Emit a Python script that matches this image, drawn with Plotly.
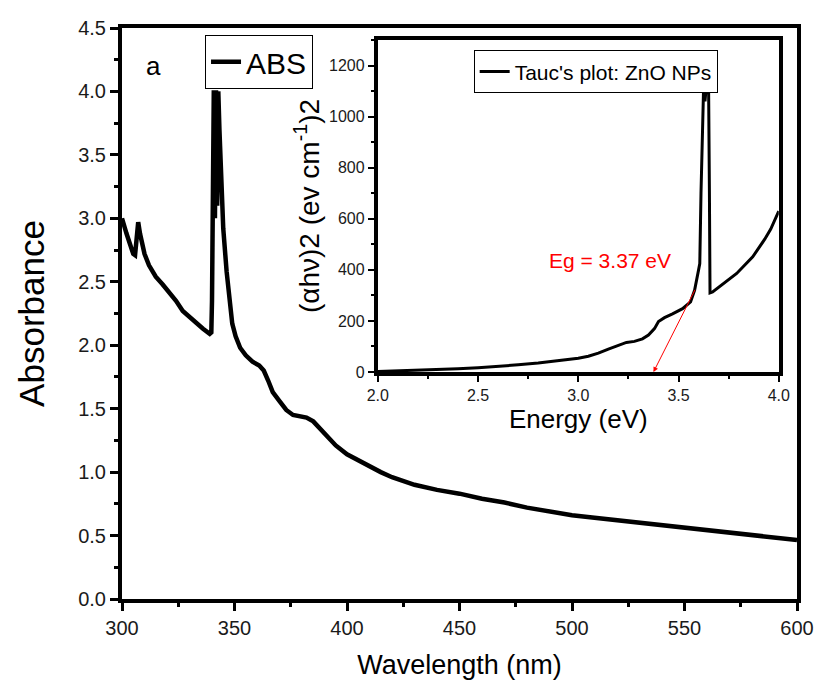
import plotly.graph_objects as go

# Main spectrum: wavelength (nm) vs absorbance
wavelength = [300, 301, 302, 303.5, 305, 305.8, 306.5, 307.2, 308, 308.8, 310, 312, 315, 318, 321, 324,
              327, 330, 333, 336, 339, 339.7, 340.0, 340.3, 340.8, 341.3, 341.8, 342.3, 342.8, 343.3,
              344.0, 345.0, 346.5, 347.5, 349, 350.5, 352.5, 355, 358, 361, 363, 365, 367, 370, 373, 376, 379,
              382, 385, 388, 391, 395, 400, 405, 410, 415, 420, 425, 430, 440, 450, 460, 470, 480,
              490, 500, 510, 520, 530, 540, 550, 560, 570, 580, 590, 600]
absorbance = [3.00, 2.93, 2.88, 2.80, 2.72, 2.71, 2.85, 2.97, 2.88, 2.80, 2.72, 2.63, 2.54, 2.48, 2.42, 2.35,
              2.27, 2.22, 2.17, 2.13, 2.09, 2.10, 2.35, 3.73, 4.01, 3.00, 4.01, 3.10, 4.00, 3.70,
              3.40, 2.92, 2.58, 2.40, 2.17, 2.07, 1.98, 1.92, 1.87, 1.84, 1.80, 1.72, 1.63, 1.56, 1.49, 1.45, 1.44,
              1.43, 1.40, 1.34, 1.28, 1.21, 1.14, 1.09, 1.04, 1.00, 0.96, 0.93, 0.90, 0.86, 0.83, 0.79, 0.76, 0.72,
              0.69, 0.66, 0.64, 0.62, 0.60, 0.58, 0.56, 0.54, 0.52, 0.50, 0.48, 0.465]

# Inset Tauc plot: energy (eV) vs (alpha h nu)^2
energy = [2.0, 2.1, 2.2, 2.3, 2.4, 2.5, 2.6, 2.7, 2.8, 2.9, 3.0, 3.05, 3.1, 3.15, 3.2, 3.24, 3.28, 3.32,
          3.35, 3.38, 3.40, 3.43, 3.47, 3.52, 3.56, 3.58, 3.60, 3.606, 3.612, 3.618, 3.625, 3.632, 3.638,
          3.644, 3.650, 3.654, 3.657, 3.67, 3.72, 3.79, 3.87, 3.93, 3.96, 4.0]
tauc = [2, 4, 6, 9, 13, 17, 22, 28, 35, 44, 54, 62, 74, 90, 106, 116, 120, 130,
        145, 170, 198, 213, 228, 248, 275, 320, 400, 425, 700, 960, 1115, 1060, 1115,
        1095, 1115, 700, 310, 314, 345, 386, 451, 520, 560, 630]

# Band-gap extrapolation arrow (tail -> head), in inset data units
eg_tail = (3.586, 328)
eg_head = (3.375, 0)
eg_label = "Eg = 3.37 eV"

FONT = "Liberation Sans, Arial, sans-serif"

fig = go.Figure()
fig.add_trace(go.Scatter(x=wavelength, y=absorbance, mode="lines", name="ABS",
                         line=dict(color="black", width=4.5), xaxis="x", yaxis="y",
                         legend="legend"))
fig.add_trace(go.Scatter(x=energy, y=tauc, mode="lines", name="Tauc's plot: ZnO NPs",
                         line=dict(color="black", width=3), xaxis="x2", yaxis="y2",
                         legend="legend2"))

axis_common = dict(showline=True, linecolor="black", mirror=True, ticks="outside",
                   tickcolor="black", showgrid=False, zeroline=False, automargin=False,
                   tickfont=dict(family=FONT, color="#1a1a1a"))

fig.update_layout(
    width=818, height=686,
    margin=dict(l=122, r=21, t=28, b=87, autoexpand=False),
    paper_bgcolor="white", plot_bgcolor="white",
    font=dict(family=FONT, color="black"),
    xaxis=dict(**axis_common, domain=[0, 1], range=[300, 600], dtick=50, linewidth=4,
               ticklen=8, tickwidth=3, tickfont_size=20,
               minor=dict(dtick=25, ticklen=4, tickwidth=3, ticks="outside", tickcolor="black"),
               title=dict(text="Wavelength (nm)", font=dict(size=27, family=FONT), standoff=18)),
    yaxis=dict(**axis_common, domain=[0, 1], range=[0, 4.5], dtick=0.5, tickformat=".1f",
               linewidth=4, ticklen=8, tickwidth=3, tickfont_size=20,
               minor=dict(dtick=0.25, ticklen=4, tickwidth=3, ticks="outside", tickcolor="black"),
               title=dict(text="Absorbance", font=dict(size=35, family=FONT), standoff=24)),
    xaxis2=dict(**axis_common, domain=[0.379, 0.973], anchor="y2", range=[2, 4], dtick=0.5,
                tickformat=".1f", linewidth=4, ticklen=6, tickwidth=2, tickfont_size=16,
                minor=dict(dtick=0.25, ticklen=3, tickwidth=2, ticks="outside", tickcolor="black"),
                title=dict(text="Energy (eV)", font=dict(size=26, family=FONT), standoff=4)),
    yaxis2=dict(**axis_common, domain=[0.3975, 0.979], anchor="x2", range=[0, 1300], dtick=200,
                linewidth=4, ticklen=6, tickwidth=2, tickfont_size=16,
                minor=dict(dtick=100, ticklen=3, tickwidth=2, ticks="outside", tickcolor="black"),
                title=dict(text="(αhν)2 (ev cm<sup>-1</sup>)2", font=dict(size=28, family=FONT),
                           standoff=2)),
    legend=dict(x=0.123, y=0.988, xanchor="left", yanchor="top", bgcolor="white",
                bordercolor="black", borderwidth=1, font=dict(size=30, family=FONT),
                itemwidth=30, tracegroupgap=0),
    legend2=dict(x=0.521, y=0.961, xanchor="left", yanchor="top", bgcolor="white",
                 bordercolor="black", borderwidth=1, font=dict(size=21, family=FONT),
                 itemwidth=30, tracegroupgap=0),
    showlegend=True,
)

fig.add_annotation(x=0.046, y=0.933, xref="paper", yref="paper", text="a", showarrow=False,
                   xanchor="center", yanchor="middle",
                   font=dict(size=26, family=FONT, color="black"))
fig.add_annotation(x=3.16, y=438, xref="x2", yref="y2", text=eg_label, showarrow=False,
                   xanchor="center", yanchor="middle",
                   font=dict(size=21, family=FONT, color="red"))
fig.add_annotation(x=eg_head[0], y=eg_head[1], ax=eg_tail[0], ay=eg_tail[1],
                   xref="x2", yref="y2", axref="x2", ayref="y2", text="", showarrow=True,
                   arrowhead=2, arrowsize=1, arrowwidth=1, arrowcolor="red")

fig.write_html("out.html")
